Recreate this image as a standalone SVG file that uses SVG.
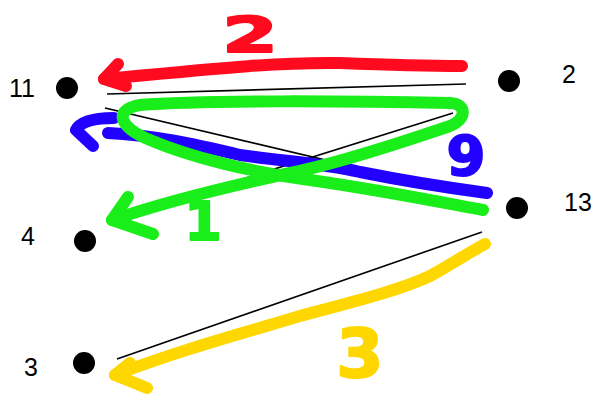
<svg xmlns="http://www.w3.org/2000/svg" width="597" height="394" viewBox="0 0 597 394">
<style>
.lbl{font-family:"Liberation Sans",Arial,sans-serif;font-size:25px;fill:#000}
.dot{fill:#000}
.edge{stroke:#000;stroke-width:1.6;fill:none}
.mark{fill:none;stroke-width:12;stroke-linecap:round;stroke-linejoin:round}
.red{stroke:#ff0a1e}
.green{stroke:#1aee1a}
.blue{stroke:#2200ff}
.yellow{stroke:#ffd700}
.hand{font-family:"DejaVu Sans",sans-serif;font-weight:bold;stroke-linejoin:round}
</style>
<rect width="597" height="394" fill="#fff"/>
<g id="connectors">
  <line class="edge" x1="107" y1="94" x2="466" y2="84"/>
  <line class="edge" x1="105" y1="108" x2="482" y2="197"/>
  <line class="edge" x1="453" y1="113" x2="118" y2="218"/>
  <line class="edge" x1="482" y1="232" x2="117" y2="359"/>
  <g id="red-arrow">
    <path class="mark red" d="M462,66 C420,66 390,65 340,63 C280,62 220,68 104,79"/>
    <path class="mark red" d="M118,64 L104,79 L126,86"/>
    <text class="hand" x="250" y="52" font-size="50" fill="#ff0a1e" stroke="#ff0a1e" stroke-width="2" text-anchor="middle" transform="translate(250 0) scale(1.6 1) translate(-250 0)">2</text>
  </g>
  <g id="blue-arrow">
    <path class="mark blue" d="M487,193 C450,188 400,180 360,172 C320,163 290,162 240,155 C190,143 150,135 108,133"/>
    <path class="mark blue" d="M114,118 Q82,118 76,130 L93,146"/>
    <text class="hand" x="466" y="175" font-size="56" fill="#2200ff" stroke="#2200ff" stroke-width="2" text-anchor="middle">9</text>
  </g>
  <g id="green-arrow">
    <path class="mark green" d="M483,210 C440,202 380,190 310,180 C250,172 190,157 150,140 C120,128 112,110 140,105 C200,100 350,101 450,103 C468,104 466,120 450,126 C400,143 330,165 290,173 C230,186 170,200 112,220"/>
    <path class="mark green" d="M128,197 L112,220 L153,234"/>
    <text class="hand" x="203" y="240" font-size="54" fill="#1aee1a" stroke="#1aee1a" stroke-width="2" text-anchor="middle">1</text>
  </g>
  <g id="yellow-arrow">
    <path class="mark yellow" d="M485,244 C470,252 455,262 430,276 C400,290 360,300 300,316 C240,334 180,350 115,375"/>
    <path class="mark yellow" d="M130,363 L115,375 L147,388"/>
    <text class="hand" x="360" y="377" font-size="68" fill="#ffd700" stroke="#ffd700" stroke-width="2" text-anchor="middle">3</text>
  </g>
</g>
<g id="node-11"><circle class="dot" cx="67" cy="88" r="11"/><text class="lbl" x="9" y="97">11</text></g>
<g id="node-2"><circle class="dot" cx="509" cy="81" r="11"/><text class="lbl" x="562" y="83">2</text></g>
<g id="node-13"><circle class="dot" cx="517" cy="208" r="11"/><text class="lbl" x="564" y="211">13</text></g>
<g id="node-4"><circle class="dot" cx="85" cy="241" r="11"/><text class="lbl" x="21" y="245">4</text></g>
<g id="node-3"><circle class="dot" cx="84" cy="363" r="11"/><text class="lbl" x="24" y="376">3</text></g>
</svg>
